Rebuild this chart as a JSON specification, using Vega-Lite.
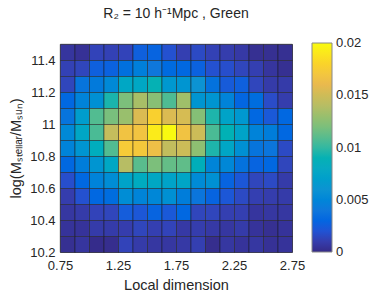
{
  "$schema": "https://vega.github.io/schema/vega-lite/v6.json",
  "autosize": {"type": "none"},
  "padding": {"left": 60, "top": 44, "right": 90, "bottom": 53},
  "width": 232,
  "height": 208,
  "background": "white",
  "config": {
    "font": "Liberation Sans",
    "view": {"stroke": "#444", "strokeWidth": 0.8},
    "axis": {"labelColor": "#262626", "titleColor": "#262626", "labelFontSize": 13, "titleFontSize": 14.5, "titleFontWeight": "normal", "domain": false, "ticks": false, "grid": false},
    "legend": {"labelColor": "#262626", "labelFontSize": 13}
  },
  "title": {"text": "R₂ = 10 h⁻¹Mpc , Green", "fontSize": 14, "fontWeight": "normal", "color": "#262626", "offset": 22, "anchor": "middle"},
  "data": {"values": [
    {"x":0.75,"y":11.4,"v":0.0006},{"x":0.875,"y":11.4,"v":0.0004},{"x":1.0,"y":11.4,"v":0.0013},{"x":1.125,"y":11.4,"v":0.0012},{"x":1.25,"y":11.4,"v":0.0013},{"x":1.375,"y":11.4,"v":0.0027},{"x":1.5,"y":11.4,"v":0.0029},{"x":1.625,"y":11.4,"v":0.0019},{"x":1.75,"y":11.4,"v":0.0011},{"x":1.875,"y":11.4,"v":0.0016},{"x":2.0,"y":11.4,"v":0.0012},{"x":2.125,"y":11.4,"v":0.001},{"x":2.25,"y":11.4,"v":0.0008},{"x":2.375,"y":11.4,"v":0.0003},{"x":2.5,"y":11.4,"v":0.0003},{"x":2.625,"y":11.4,"v":0.0003},
    {"x":0.75,"y":11.3,"v":0.0012},{"x":0.875,"y":11.3,"v":0.0014},{"x":1.0,"y":11.3,"v":0.0027},{"x":1.125,"y":11.3,"v":0.0028},{"x":1.25,"y":11.3,"v":0.0036},{"x":1.375,"y":11.3,"v":0.0045},{"x":1.5,"y":11.3,"v":0.004},{"x":1.625,"y":11.3,"v":0.0033},{"x":1.75,"y":11.3,"v":0.0031},{"x":1.875,"y":11.3,"v":0.0028},{"x":2.0,"y":11.3,"v":0.0019},{"x":2.125,"y":11.3,"v":0.0018},{"x":2.25,"y":11.3,"v":0.0014},{"x":2.375,"y":11.3,"v":0.0011},{"x":2.5,"y":11.3,"v":0.0006},{"x":2.625,"y":11.3,"v":0.0003},
    {"x":0.75,"y":11.2,"v":0.0014},{"x":0.875,"y":11.2,"v":0.0038},{"x":1.0,"y":11.2,"v":0.0042},{"x":1.125,"y":11.2,"v":0.0052},{"x":1.25,"y":11.2,"v":0.0078},{"x":1.375,"y":11.2,"v":0.0078},{"x":1.5,"y":11.2,"v":0.009},{"x":1.625,"y":11.2,"v":0.0064},{"x":1.75,"y":11.2,"v":0.0062},{"x":1.875,"y":11.2,"v":0.006},{"x":2.0,"y":11.2,"v":0.0037},{"x":2.125,"y":11.2,"v":0.0024},{"x":2.25,"y":11.2,"v":0.0027},{"x":2.375,"y":11.2,"v":0.0014},{"x":2.5,"y":11.2,"v":0.0009},{"x":2.625,"y":11.2,"v":0.0009},
    {"x":0.75,"y":11.1,"v":0.0031},{"x":0.875,"y":11.1,"v":0.0048},{"x":1.0,"y":11.1,"v":0.0058},{"x":1.125,"y":11.1,"v":0.0094},{"x":1.25,"y":11.1,"v":0.012},{"x":1.375,"y":11.1,"v":0.0135},{"x":1.5,"y":11.1,"v":0.0124},{"x":1.625,"y":11.1,"v":0.0107},{"x":1.75,"y":11.1,"v":0.0132},{"x":1.875,"y":11.1,"v":0.0062},{"x":2.0,"y":11.1,"v":0.0062},{"x":2.125,"y":11.1,"v":0.0048},{"x":2.25,"y":11.1,"v":0.003},{"x":2.375,"y":11.1,"v":0.0034},{"x":2.5,"y":11.1,"v":0.0017},{"x":2.625,"y":11.1,"v":0.001},
    {"x":0.75,"y":11.0,"v":0.0038},{"x":0.875,"y":11.0,"v":0.0068},{"x":1.0,"y":11.0,"v":0.0108},{"x":1.125,"y":11.0,"v":0.0119},{"x":1.25,"y":11.0,"v":0.013},{"x":1.375,"y":11.0,"v":0.0155},{"x":1.5,"y":11.0,"v":0.0178},{"x":1.625,"y":11.0,"v":0.0155},{"x":1.75,"y":11.0,"v":0.0153},{"x":1.875,"y":11.0,"v":0.0123},{"x":2.0,"y":11.0,"v":0.0095},{"x":2.125,"y":11.0,"v":0.0074},{"x":2.25,"y":11.0,"v":0.0064},{"x":2.375,"y":11.0,"v":0.0031},{"x":2.5,"y":11.0,"v":0.0023},{"x":2.625,"y":11.0,"v":0.0031},
    {"x":0.75,"y":10.9,"v":0.0052},{"x":0.875,"y":10.9,"v":0.0077},{"x":1.0,"y":10.9,"v":0.0106},{"x":1.125,"y":10.9,"v":0.0146},{"x":1.25,"y":10.9,"v":0.0168},{"x":1.375,"y":10.9,"v":0.0169},{"x":1.5,"y":10.9,"v":0.0192},{"x":1.625,"y":10.9,"v":0.0199},{"x":1.75,"y":10.9,"v":0.0168},{"x":1.875,"y":10.9,"v":0.0149},{"x":2.0,"y":10.9,"v":0.0106},{"x":2.125,"y":10.9,"v":0.0089},{"x":2.25,"y":10.9,"v":0.0074},{"x":2.375,"y":10.9,"v":0.0048},{"x":2.5,"y":10.9,"v":0.0044},{"x":2.625,"y":10.9,"v":0.0031},
    {"x":0.75,"y":10.8,"v":0.0048},{"x":0.875,"y":10.8,"v":0.0062},{"x":1.0,"y":10.8,"v":0.0084},{"x":1.125,"y":10.8,"v":0.0108},{"x":1.25,"y":10.8,"v":0.0174},{"x":1.375,"y":10.8,"v":0.0172},{"x":1.5,"y":10.8,"v":0.0165},{"x":1.625,"y":10.8,"v":0.0145},{"x":1.75,"y":10.8,"v":0.0149},{"x":1.875,"y":10.8,"v":0.0126},{"x":2.0,"y":10.8,"v":0.0095},{"x":2.125,"y":10.8,"v":0.0077},{"x":2.25,"y":10.8,"v":0.0058},{"x":2.375,"y":10.8,"v":0.0038},{"x":2.5,"y":10.8,"v":0.0039},{"x":2.625,"y":10.8,"v":0.0016},
    {"x":0.75,"y":10.7,"v":0.0031},{"x":0.875,"y":10.7,"v":0.0044},{"x":1.0,"y":10.7,"v":0.0062},{"x":1.125,"y":10.7,"v":0.0078},{"x":1.25,"y":10.7,"v":0.014},{"x":1.375,"y":10.7,"v":0.011},{"x":1.5,"y":10.7,"v":0.012},{"x":1.625,"y":10.7,"v":0.0113},{"x":1.75,"y":10.7,"v":0.0112},{"x":1.875,"y":10.7,"v":0.0086},{"x":2.0,"y":10.7,"v":0.0049},{"x":2.125,"y":10.7,"v":0.0051},{"x":2.25,"y":10.7,"v":0.0037},{"x":2.375,"y":10.7,"v":0.0029},{"x":2.5,"y":10.7,"v":0.0031},{"x":2.625,"y":10.7,"v":0.0014},
    {"x":0.75,"y":10.6,"v":0.0018},{"x":0.875,"y":10.6,"v":0.0031},{"x":1.0,"y":10.6,"v":0.0048},{"x":1.125,"y":10.6,"v":0.0055},{"x":1.25,"y":10.6,"v":0.0074},{"x":1.375,"y":10.6,"v":0.0082},{"x":1.5,"y":10.6,"v":0.0078},{"x":1.625,"y":10.6,"v":0.0074},{"x":1.75,"y":10.6,"v":0.0076},{"x":1.875,"y":10.6,"v":0.0054},{"x":2.0,"y":10.6,"v":0.0058},{"x":2.125,"y":10.6,"v":0.0029},{"x":2.25,"y":10.6,"v":0.0022},{"x":2.375,"y":10.6,"v":0.0014},{"x":2.5,"y":10.6,"v":0.0016},{"x":2.625,"y":10.6,"v":0.0009},
    {"x":0.75,"y":10.5,"v":0.001},{"x":0.875,"y":10.5,"v":0.0019},{"x":1.0,"y":10.5,"v":0.0031},{"x":1.125,"y":10.5,"v":0.0034},{"x":1.25,"y":10.5,"v":0.0055},{"x":1.375,"y":10.5,"v":0.0049},{"x":1.5,"y":10.5,"v":0.0051},{"x":1.625,"y":10.5,"v":0.0058},{"x":1.75,"y":10.5,"v":0.0044},{"x":1.875,"y":10.5,"v":0.0039},{"x":2.0,"y":10.5,"v":0.0029},{"x":2.125,"y":10.5,"v":0.0022},{"x":2.25,"y":10.5,"v":0.0016},{"x":2.375,"y":10.5,"v":0.0011},{"x":2.5,"y":10.5,"v":0.001},{"x":2.625,"y":10.5,"v":0.0009},
    {"x":0.75,"y":10.4,"v":0.0007},{"x":0.875,"y":10.4,"v":0.0009},{"x":1.0,"y":10.4,"v":0.0013},{"x":1.125,"y":10.4,"v":0.0014},{"x":1.25,"y":10.4,"v":0.0025},{"x":1.375,"y":10.4,"v":0.0022},{"x":1.5,"y":10.4,"v":0.0029},{"x":1.625,"y":10.4,"v":0.0023},{"x":1.75,"y":10.4,"v":0.0031},{"x":1.875,"y":10.4,"v":0.0014},{"x":2.0,"y":10.4,"v":0.0014},{"x":2.125,"y":10.4,"v":0.0011},{"x":2.25,"y":10.4,"v":0.0011},{"x":2.375,"y":10.4,"v":0.0006},{"x":2.5,"y":10.4,"v":0.0007},{"x":2.625,"y":10.4,"v":0.0007},
    {"x":0.75,"y":10.3,"v":0.0005},{"x":0.875,"y":10.3,"v":0.0005},{"x":1.0,"y":10.3,"v":0.0009},{"x":1.125,"y":10.3,"v":0.0009},{"x":1.25,"y":10.3,"v":0.001},{"x":1.375,"y":10.3,"v":0.0014},{"x":1.5,"y":10.3,"v":0.0011},{"x":1.625,"y":10.3,"v":0.0013},{"x":1.75,"y":10.3,"v":0.0008},{"x":1.875,"y":10.3,"v":0.001},{"x":2.0,"y":10.3,"v":0.0008},{"x":2.125,"y":10.3,"v":0.0007},{"x":2.25,"y":10.3,"v":0.0009},{"x":2.375,"y":10.3,"v":0.0005},{"x":2.5,"y":10.3,"v":0.0003},{"x":2.625,"y":10.3,"v":0.0005},
    {"x":0.75,"y":10.2,"v":0.0003},{"x":0.875,"y":10.2,"v":0.0006},{"x":1.0,"y":10.2,"v":0.0001},{"x":1.125,"y":10.2,"v":0.0002},{"x":1.25,"y":10.2,"v":0.0013},{"x":1.375,"y":10.2,"v":0.0009},{"x":1.5,"y":10.2,"v":0.0007},{"x":1.625,"y":10.2,"v":0.0007},{"x":1.75,"y":10.2,"v":0.0008},{"x":1.875,"y":10.2,"v":0.0011},{"x":2.0,"y":10.2,"v":0.0002},{"x":2.125,"y":10.2,"v":0.0007},{"x":2.25,"y":10.2,"v":0.0005},{"x":2.375,"y":10.2,"v":0.0007},{"x":2.5,"y":10.2,"v":0.0004},{"x":2.625,"y":10.2,"v":0.0005}
  ]},
  "mark": {"type": "rect", "stroke": "#1a1a1a", "strokeWidth": 0.7, "strokeOpacity": 0.7},
  "encoding": {
    "x": {"field": "x", "type": "quantitative", "bin": {"binned": true, "step": 0.125},
      "scale": {"domain": [0.75, 2.75], "nice": false, "zero": false},
      "axis": {"title": "Local dimension", "values": [0.75, 1.25, 1.75, 2.25, 2.75], "format": ".2f", "labelPadding": 7, "titlePadding": 6, "labelFlush": false}},
    "y": {"field": "y", "type": "quantitative", "bin": {"binned": true, "step": 0.1},
      "scale": {"domain": [10.2, 11.5], "nice": false, "zero": false},
      "axis": {"title": "log(Mₛₜₑₗₗₐᵣ/Mₛᵤₙ)", "values": [10.2, 10.4, 10.6, 10.8, 11, 11.2, 11.4], "labelExpr": "format(datum.value, '~g')", "labelPadding": 5, "titlePadding": 6, "labelFlush": false}},
    "color": {"field": "v", "type": "quantitative",
      "scale": {"type": "linear", "domain": [0, 0.001, 0.002, 0.003, 0.004, 0.006, 0.008, 0.01, 0.012, 0.014, 0.016, 0.018, 0.02],
        "range": ["#352a87", "#353dad", "#2053d4", "#0366e1", "#0f77db", "#0c93d2", "#07a9c2", "#33b8a1", "#7cbf7b", "#b7bd64", "#e9b94e", "#fad32a", "#f9fb0e"]},
      "legend": {"orient": "none", "legendX": 252, "legendY": -1, "title": null, "gradientLength": 209, "gradientThickness": 20, "gradientStrokeColor": "#888", "gradientStrokeWidth": 1, "values": [0, 0.005, 0.01, 0.015, 0.02], "labelExpr": "format(datum.value, '~g')", "labelOffset": 4, "labelOverlap": false, "direction": "vertical",
        "encode": {"labels": {"update": {"baseline": {"value": "middle"}}}}}}
  }
}
